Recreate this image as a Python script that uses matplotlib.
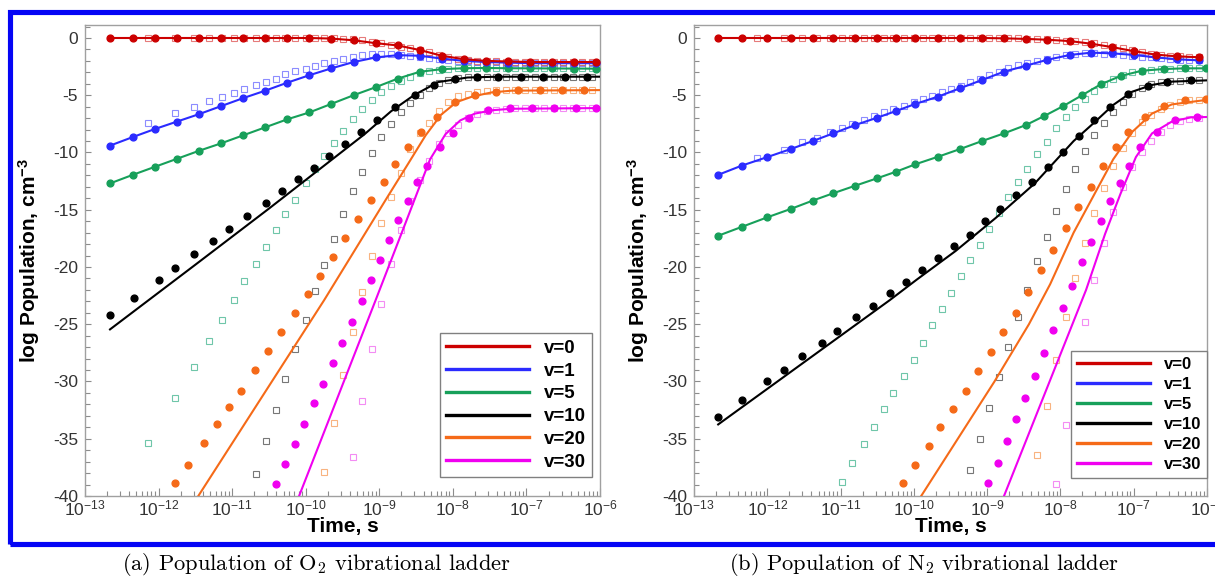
import numpy as np
import matplotlib
matplotlib.use('Agg')
import matplotlib.pyplot as plt
from matplotlib.patches import Rectangle
from matplotlib.ticker import LogLocator, MultipleLocator, NullFormatter

plt.rcParams['font.family'] = ['Liberation Sans', 'DejaVu Sans']
plt.rcParams['mathtext.fontset'] = 'custom'
plt.rcParams['mathtext.rm'] = 'Liberation Sans'
plt.rcParams['mathtext.it'] = 'Liberation Sans:italic'
plt.rcParams['mathtext.bf'] = 'Liberation Sans:bold'
plt.rcParams['axes.unicode_minus'] = False

# ---- data: times as log10(t [s]), values as log10 population ----
labels = ['v=0', 'v=1', 'v=5', 'v=10', 'v=20', 'v=30']
colors = ['#cc0000', '#2b2bff', '#17a05a', '#000000', '#f56a18', '#f000f0']
sq_colors = ['#e05a5a', '#6f6fff', '#4bb894', '#555555', '#f7a060', '#f070f0']

# open squares share one time grid (each series uses the tail of it)
sq_t = [-12.14, -11.77, -11.52, -11.32, -11.14, -10.98, -10.84, -10.68, -10.54, -10.41,
        -10.28, -10.14, -10.0, -9.88, -9.75, -9.62, -9.49, -9.36, -9.23, -9.1,
        -8.97, -8.84, -8.71, -8.58, -8.45, -8.32, -8.19, -8.06, -7.93, -7.8,
        -7.67, -7.54, -7.41, -7.28, -7.15, -7.02, -6.89, -6.76, -6.63, -6.5,
        -6.37, -6.24, -6.11]

# O2 panel
o2_tc = [-12.66, -12.35, -12.05, -11.75, -11.45, -11.15, -10.85, -10.55, -10.25, -9.95, -9.65, -9.35,
         -9.05, -8.75, -8.45, -8.15, -7.85, -7.55, -7.25, -6.95, -6.65, -6.35, -6.05]
o2_v0 = [0, 0, 0, 0, 0, 0, 0, 0, 0, 0, -0.05, -0.2, -0.45, -0.65, -1.05, -1.55, -1.85, -2.0, -2.05,
         -2.1, -2.1, -2.1, -2.1]
o2_v1 = [-9.4, -8.65, -7.95, -7.3, -6.65, -5.95, -5.25, -4.6, -3.9, -3.25, -2.65, -2.1, -1.7, -1.5,
         -1.55, -1.8, -2.0, -2.1, -2.15, -2.2, -2.2, -2.2, -2.2]
o2_v5 = [-12.7, -11.95, -11.25, -10.55, -9.85, -9.2, -8.5, -7.8, -7.1, -6.5, -5.75, -5.0, -4.3, -3.55,
         -2.95, -2.72, -2.64, -2.62, -2.64, -2.65, -2.66, -2.67, -2.68]
o2_t10 = [-12.66, -12.33, -11.99, -11.78, -11.52, -11.26, -11.04, -10.8, -10.54, -10.32, -10.11, -9.89,
          -9.68, -9.47, -9.25, -9.03, -8.78, -8.51, -8.26, -7.97, -7.67, -7.38, -7.08, -6.78, -6.48, -6.18]
o2_v10 = [-24.2, -22.7, -21.1, -20.06, -18.9, -17.7, -16.7, -15.55, -14.45, -13.4, -12.35, -11.38,
          -10.28, -9.28, -8.24, -7.16, -6.0, -4.98, -4.13, -3.58, -3.4, -3.38, -3.38, -3.38, -3.38, -3.38]
o2_t20 = [-11.78, -11.6, -11.38, -11.2, -11.04, -10.88, -10.69, -10.51, -10.34, -10.15, -9.97, -9.8,
          -9.63, -9.47, -9.29, -9.11, -8.94, -8.78, -8.61, -8.43, -8.22, -7.97, -7.7, -7.42, -7.12, -6.82,
          -6.52, -6.22]
o2_v20 = [-38.9, -37.3, -35.4, -33.7, -32.2, -30.8, -29.0, -27.3, -25.65, -24.0, -22.4, -20.8, -19.1,
          -17.5, -15.8, -14.15, -12.6, -11.0, -9.55, -8.24, -6.87, -5.6, -4.98, -4.69, -4.58, -4.55,
          -4.55, -4.55]
o2_t30 = [-10.41, -10.28, -10.15, -10.02, -9.89, -9.76, -9.63, -9.5, -9.37, -9.23, -9.11, -8.99, -8.87,
          -8.74, -8.61, -8.49, -8.35, -8.17, -8.0, -7.78, -7.52, -7.22, -6.92, -6.62, -6.32, -6.05]
o2_v30 = [-38.95, -37.2, -35.5, -33.7, -31.9, -30.2, -28.35, -26.6, -24.8, -23.0, -21.1, -19.4, -17.6,
          -15.9, -14.2, -12.6, -11.15, -9.5, -8.27, -7.0, -6.3, -6.15, -6.12, -6.1, -6.1, -6.1]
# O2 solid lines for v=10,20,30 (v=0,1,5 lines follow the circles)
o2_l10_t = [-12.66, -11.5, -10.5, -9.6, -9.2, -8.84, -8.53, -8.2, -7.8, -7.4, -6.0]
o2_l10 = [-25.45, -19.8, -14.9, -10.4, -8.4, -6.4, -5.0, -3.85, -3.45, -3.38, -3.38]
o2_l20_t = [-11.46, -9.75, -8.9, -8.6, -8.37, -8.16, -7.95, -7.73, -7.47, -7.2, -6.0]
o2_l20 = [-40, -22.9, -14.0, -10.9, -8.5, -6.7, -5.6, -5.1, -4.75, -4.6, -4.55]
o2_l30_t = [-10.09, -9.05, -8.64, -8.31, -8.1, -7.9, -7.7, -7.45, -7.2, -6.0]
o2_l30 = [-40, -22.9, -16.1, -10.6, -8.4, -7.2, -6.6, -6.3, -6.18, -6.12]
# O2 open squares
o2_s0 = [0, 0, 0, 0, 0, 0, 0, 0, 0, 0, 0, 0, 0, 0, 0, 0, -0.05, -0.12, -0.2, -0.35, -0.45, -0.6, -0.75,
         -0.9, -1.05, -1.25, -1.45, -1.65, -1.8, -1.9, -1.97, -2.02, -2.05, -2.1, -2.1, -2.1, -2.1, -2.1,
         -2.1, -2.1, -2.1, -2.1, -2.1]
o2_s1 = [-7.45, -6.58, -6.0, -5.53, -5.12, -4.77, -4.45, -4.13, -3.84, -3.55, -3.17, -2.91, -2.7, -2.47,
         -2.21, -2.0, -1.83, -1.63, -1.52, -1.43, -1.37, -1.4, -1.45, -1.55, -1.62, -1.72, -1.82, -1.9,
         -1.97, -2.02, -2.07, -2.1, -2.13, -2.15, -2.15, -2.15, -2.15, -2.15, -2.15, -2.15, -2.15, -2.15,
         -2.15]
o2_s5 = [-35.4, -31.4, -28.7, -26.5, -24.6, -22.9, -21.2, -19.7, -18.25, -16.8, -15.4, -14.15, -12.7,
         -11.45, -10.27, -9.14, -8.12, -7.1, -6.23, -5.41, -4.75, -4.16, -3.76, -3.4, -3.1, -2.9, -2.78,
         -2.7, -2.66, -2.65, -2.65, -2.65, -2.65, -2.65, -2.65, -2.65, -2.65, -2.65, -2.65, -2.65, -2.65,
         -2.65, -2.65]
o2_s10 = [-38.1, -35.2, -32.5, -29.75, -27.2, -24.6, -22.1, -19.8, -17.55, -15.4, -13.4, -11.7, -10.07,
          -8.65, -7.5, -6.46, -5.68, -5.0, -4.4, -3.95, -3.65, -3.5, -3.42, -3.38, -3.38, -3.38, -3.38,
          -3.38, -3.38, -3.38, -3.38, -3.38, -3.38, -3.38, -3.38, -3.38]
o2_s20 = [-37.9, -33.6, -29.4, -25.65, -22.2, -19.0, -16.2, -13.9, -11.8, -9.72, -8.33, -7.4, -6.4, -5.6,
          -5.1, -4.85, -4.7, -4.62, -4.55, -4.55, -4.55, -4.55, -4.55, -4.55, -4.55, -4.55, -4.55, -4.55,
          -4.55]
o2_s30 = [-36.6, -31.7, -27.2, -23.2, -19.7, -16.8, -14.2, -12.4, -10.7, -9.3, -8.3, -7.6, -7.0, -6.65,
          -6.4, -6.25, -6.18, -6.12, -6.12, -6.12, -6.12, -6.12, -6.12, -6.12, -6.12, -6.12]

# N2 panel
n2_tc = [-12.67, -12.35, -12.0, -11.68, -11.38, -11.1, -10.8, -10.5, -10.24, -9.98, -9.67, -9.37,
         -9.07, -8.77, -8.47, -8.19, -7.87, -7.58, -7.29, -7.0, -6.7, -6.41, -6.11]
n2_v0 = [0, 0, 0, 0, 0, 0, 0, 0, 0, 0, 0, 0, 0, -0.03, -0.08, -0.15, -0.27, -0.5, -0.8, -1.15, -1.45,
         -1.6, -1.68]
n2_v1 = [-11.95, -11.15, -10.4, -9.7, -9.0, -8.33, -7.6, -6.96, -6.37, -5.76, -5.12, -4.39, -3.67,
         -2.94, -2.42, -1.92, -1.48, -1.28, -1.34, -1.48, -1.69, -1.86, -1.95]
n2_t5 = [-12.67, -12.35, -12.0, -11.68, -11.38, -11.1, -10.8, -10.5, -10.24, -9.98, -9.67, -9.37,
         -9.07, -8.77, -8.47, -8.22, -7.96, -7.7, -7.45, -7.18, -6.89, -6.59, -6.3, -6.02]
n2_v5 = [-17.27, -16.5, -15.66, -14.93, -14.2, -13.56, -12.9, -12.25, -11.67, -11.03, -10.37, -9.7,
         -9.0, -8.33, -7.6, -6.81, -5.94, -4.98, -4.05, -3.32, -2.86, -2.71, -2.65, -2.65]
n2_t10 = [-12.67, -12.35, -12.0, -11.77, -11.53, -11.25, -11.05, -10.79, -10.56, -10.33, -10.11, -9.89,
          -9.67, -9.45, -9.23, -9.03, -8.82, -8.6, -8.39, -8.17, -7.96, -7.75, -7.54, -7.32, -7.08,
          -6.81, -6.55, -6.22]
n2_v10 = [-33.1, -31.6, -30.0, -29.0, -27.8, -26.6, -25.6, -24.4, -23.4, -22.3, -21.3, -20.3, -19.25,
          -18.2, -17.2, -16.0, -14.96, -13.7, -12.55, -11.24, -9.93, -8.53, -7.16, -6.0, -4.92, -4.19,
          -3.81, -3.67]
n2_t20 = [-10.15, -9.98, -9.8, -9.64, -9.47, -9.29, -9.12, -8.95, -8.78, -8.6, -8.44, -8.27, -8.1,
          -7.93, -7.76, -7.58, -7.42, -7.24, -7.08, -6.85, -6.59, -6.3, -6.02]
n2_v20 = [-38.9, -37.3, -35.6, -34.0, -32.4, -30.8, -29.1, -27.4, -25.65, -24.0, -22.2, -20.3, -18.5,
          -16.6, -14.8, -13.0, -11.15, -9.5, -8.24, -6.87, -5.94, -5.41, -5.36]
n2_t30 = [-8.99, -8.85, -8.73, -8.6, -8.48, -8.35, -8.22, -8.1, -7.96, -7.84, -7.7, -7.58, -7.45,
          -7.32, -7.19, -7.06, -6.91, -6.68, -6.44, -6.14]
n2_v30 = [-38.9, -37.1, -35.2, -33.3, -31.4, -29.5, -27.5, -25.5, -23.6, -21.7, -19.6, -17.85, -16.0,
          -14.2, -12.7, -11.15, -9.5, -8.18, -7.16, -6.87]
n2_l10_t = [-12.67, -10.33, -9.96, -9.43, -8.88, -8.35, -7.82, -7.55, -7.28, -7.02, -6.75, -6.48, -6.0]
n2_l10 = [-33.75, -22.9, -21.1, -18.6, -15.7, -12.7, -9.0, -7.45, -5.85, -4.69, -4.1, -3.81, -3.7]
n2_l20_t = [-9.9, -8.9, -8.43, -8.14, -7.82, -7.55, -7.28, -7.02, -6.75, -6.48, -6.0]
n2_l20 = [-40, -30.0, -25.0, -21.5, -17.0, -13.8, -10.6, -8.2, -6.6, -5.8, -5.4]
n2_l30_t = [-8.77, -7.65, -7.39, -7.18, -6.97, -6.75, -6.48, -6.22, -6.0]
n2_l30 = [-40, -22.0, -17.1, -13.6, -10.4, -8.33, -7.3, -6.93, -6.9]
n2_s0 = [0, 0, 0, 0, 0, 0, 0, 0, 0, 0, 0, 0, 0, 0, 0, 0, 0, 0, 0, 0, 0, 0, 0, 0, -0.05, -0.08, -0.12,
         -0.17, -0.22, -0.28, -0.37, -0.48, -0.6, -0.75, -0.9, -1.07, -1.22, -1.36, -1.47, -1.55, -1.6,
         -1.65, -1.68]
n2_s1 = [-10.5, -9.75, -9.1, -8.7, -8.25, -7.85, -7.5, -7.15, -6.8, -6.5, -6.2, -5.9, -5.6, -5.35, -5.05,
         -4.75, -4.45, -4.15, -3.85, -3.55, -3.25, -2.95, -2.65, -2.4, -2.2, -2.0, -1.8, -1.65, -1.5, -1.4,
         -1.35, -1.35, -1.38, -1.42, -1.48, -1.55, -1.62, -1.7, -1.77, -1.83, -1.88, -1.92, -1.95]
n2_s5 = [-38.8, -37.1, -35.5, -34.0, -32.4, -31.0, -29.5, -28.1, -26.6, -25.1, -23.7, -22.3, -20.8,
         -19.4, -18.1, -16.7, -15.3, -13.9, -12.6, -11.4, -10.1, -9.06, -7.9, -6.93, -6.06, -5.33, -4.6,
         -4.0, -3.55, -3.2, -2.98, -2.85, -2.76, -2.71, -2.68, -2.66, -2.65, -2.65]
n2_s10 = [-37.7, -35.0, -32.3, -29.6, -27.0, -24.4, -22.0, -19.5, -17.35, -15.1, -13.2, -11.4, -9.84,
          -8.47, -7.4, -6.43, -5.6, -4.9, -4.4, -4.05, -3.85, -3.75, -3.72, -3.7, -3.7]
n2_s20 = [-36.4, -32.1, -28.1, -24.4, -21.0, -17.9, -15.3, -13.1, -11.15, -9.6, -8.3, -7.35, -6.7, -6.2,
          -5.85, -5.6, -5.45, -5.4]
n2_s30 = [-38.95, -33.8, -29.1, -24.8, -21.1, -17.9, -15.2, -13.0, -11.3, -10.0, -9.0, -8.2, -7.6,
          -7.25, -7.05, -6.95]

panels = [
    dict(circles=[(o2_tc, o2_v0), (o2_tc, o2_v1), (o2_tc, o2_v5),
                  (o2_t10, o2_v10), (o2_t20, o2_v20), (o2_t30, o2_v30)],
         lines=[(o2_tc, o2_v0), (o2_tc, o2_v1), (o2_tc, o2_v5),
                (o2_l10_t, o2_l10), (o2_l20_t, o2_l20), (o2_l30_t, o2_l30)],
         squares=[o2_s0, o2_s1, o2_s5, o2_s10, o2_s20, o2_s30],
         caption=r'(a) Population of O$_2$ vibrational ladder',
         legend=dict(size=13.5, anchor=(0.985, 0.04))),
    dict(circles=[(n2_tc, n2_v0), (n2_tc, n2_v1), (n2_t5, n2_v5),
                  (n2_t10, n2_v10), (n2_t20, n2_v20), (n2_t30, n2_v30)],
         lines=[(n2_tc, n2_v0), (n2_tc, n2_v1), (n2_t5, n2_v5),
                (n2_l10_t, n2_l10), (n2_l20_t, n2_l20), (n2_l30_t, n2_l30)],
         squares=[n2_s0, n2_s1, n2_s5, n2_s10, n2_s20, n2_s30],
         caption=r'(b) Population of N$_2$ vibrational ladder',
         legend=dict(size=12, anchor=(1.0, 0.038))),
]

fig = plt.figure(figsize=(12.15, 5.77), dpi=100)
ax_rects = [[85 / 1215, 81 / 577, 515 / 1215, 471 / 577],
            [694 / 1215, 81 / 577, 513 / 1215, 471 / 577]]
cap_x = [316 / 1215, 924 / 1215]

for k, p in enumerate(panels):
    ax = fig.add_axes(ax_rects[k])
    handles = [None] * 6
    for i in reversed(range(6)):
        sy = p['squares'][i]
        st = sq_t[len(sq_t) - len(sy):]
        ax.plot(np.power(10.0, st), sy, ls='none', marker='s', ms=4.2, mfc='none',
                mec=sq_colors[i], mew=0.8, alpha=0.8, zorder=3)
        lt, ly = p['lines'][i]
        handles[i], = ax.plot(np.power(10.0, lt), ly, color=colors[i], lw=1.5, zorder=4, label=labels[i])
        ct, cy = p['circles'][i]
        ax.plot(np.power(10.0, ct), cy, ls='none', marker='o', ms=4.9, color=colors[i], zorder=5)

    ax.set_xscale('log')
    ax.set_xlim(1e-13, 1e-6)
    ax.set_ylim(-40, 1.135)
    ax.xaxis.set_major_locator(LogLocator(base=10, numticks=20))
    ax.xaxis.set_minor_locator(LogLocator(base=10, subs=np.arange(2, 10), numticks=100))
    ax.xaxis.set_minor_formatter(NullFormatter())
    ax.yaxis.set_major_locator(MultipleLocator(5))
    ax.yaxis.set_minor_locator(MultipleLocator(1))
    ax.tick_params(which='both', direction='in', color='#8c8c8c', labelcolor='#333333',
                   labelsize=12.5, width=0.8)
    ax.tick_params(axis='x', which='major', length=5.8, pad=1.5)
    ax.tick_params(axis='x', which='minor', length=3.6)
    ax.tick_params(axis='y', which='major', length=4.5, pad=5)
    ax.tick_params(axis='y', which='minor', length=3.3)
    for s in ax.spines.values():
        s.set_color('#a0a0a0')
        s.set_linewidth(1.0)

    ax.set_xlabel('Time, s', fontsize=15, fontweight='bold')
    ax.xaxis.set_label_coords(0.5, -0.045)
    ax.set_ylabel(r'log Population, cm$^{\mathbf{-3}}$', fontsize=15, fontweight='bold')
    ax.yaxis.set_label_coords(-0.083, 0.5)

    leg = ax.legend(handles=handles, loc='lower right', bbox_to_anchor=p['legend']['anchor'],
                    borderaxespad=0, fancybox=False, framealpha=1, edgecolor='#808080',
                    prop={'size': p['legend']['size'], 'weight': 'bold'},
                    handlelength=4.4, handletextpad=0.8, labelspacing=0.3, borderpad=0.35)
    leg.get_frame().set_linewidth(1.0)
    for ln in leg.get_lines():
        ln.set_linewidth(2.4)

    fig.text(cap_x[k], 7 / 577, p['caption'], ha='center', va='baseline', fontsize=16.2,
             family='cmr10', math_fontfamily='cm')

# blue frame round both panels
frame = Rectangle((10.5 / 1215, 33 / 577), 1212 / 1215, 532.5 / 577, transform=fig.transFigure,
                  fill=False, edgecolor='#0505f5', lw=3.7)
fig.add_artist(frame)

fig.savefig('out.png', dpi=100)
